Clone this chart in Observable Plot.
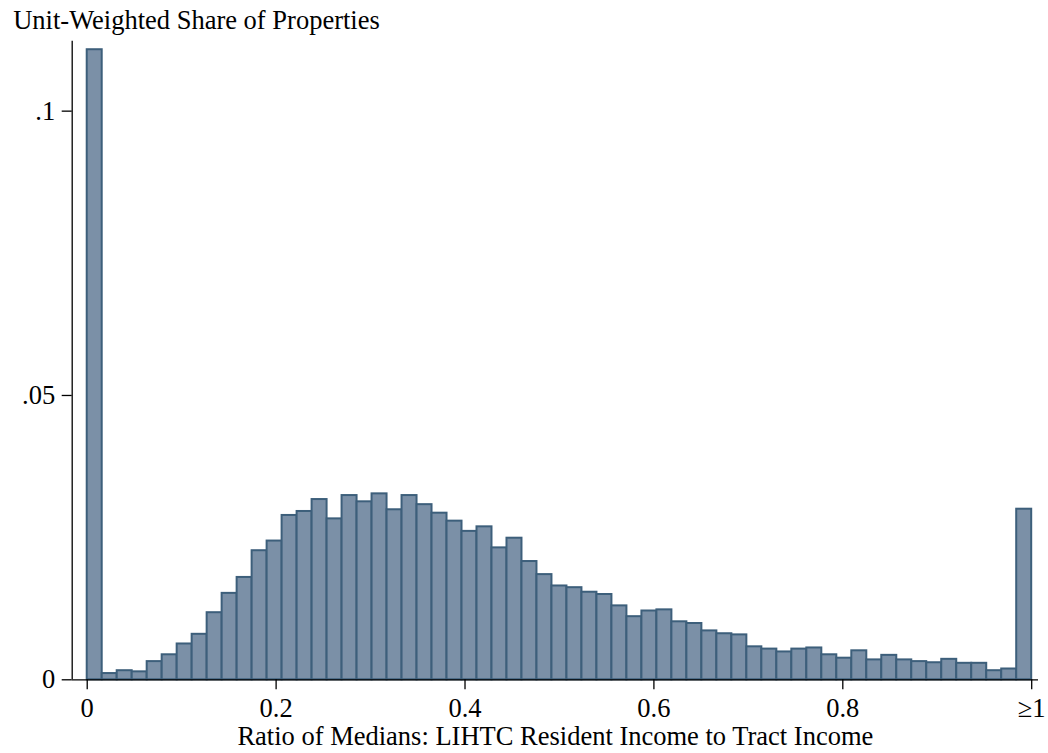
<!DOCTYPE html>
<html><head><meta charset="utf-8">
<script src="https://cdn.jsdelivr.net/npm/d3@7"></script>
<script src="https://cdn.jsdelivr.net/npm/@observablehq/plot@0.6"></script>
<style>body{margin:0;background:#fff} #chart svg{display:block}</style>
</head><body><div id="chart"></div>
<script>
const yTitle = "Unit-Weighted Share of Properties";
const xTitle = "Ratio of Medians: LIHTC Resident Income to Tract Income";
const xTicks = [0, 0.2, 0.4, 0.6, 0.8, 1];
const xTickLabels = ["0", "0.2", "0.4", "0.6", "0.8", "≥1"];
const yTicks = [0, 0.05, 0.1];
const yTickLabels = ["0", ".05", ".1"];
// share of properties in each of 63 equal-width bins over [0, 1] (last bin = ≥1)
const shares = [
  0.1108, 0.0011, 0.0016, 0.0014, 0.0032, 0.0044, 0.0063, 0.0080, 0.0118, 0.0152,
  0.0180, 0.0227, 0.0244, 0.0289, 0.0296, 0.0317, 0.0283, 0.0324, 0.0313, 0.0327,
  0.0299, 0.0324, 0.0308, 0.0293, 0.0279, 0.0261, 0.0269, 0.0232, 0.0249, 0.0208,
  0.0185, 0.0165, 0.0162, 0.0154, 0.0150, 0.0130, 0.0111, 0.0121, 0.0123, 0.0102,
  0.0099, 0.0086, 0.0081, 0.0079, 0.0058, 0.0054, 0.0049, 0.0054, 0.0056, 0.0044,
  0.0038, 0.0051, 0.0035, 0.0043, 0.0035, 0.0032, 0.0030, 0.0036, 0.0029, 0.0029,
  0.0016, 0.0019, 0.0300
];
const nBins = shares.length;
const bins = shares.map((v, i) => ({x1: i / nBins, x2: (i + 1) / nBins, share: v}));
const xDomain = [-0.0159, 1.0072];
const yDomain = [0, 0.1123];
const font = "'Liberation Serif', 'Times New Roman', serif";
const fs = 26.5;

const chart = Plot.plot({
  width: 1048, height: 753,
  marginLeft: 71.7, marginRight: 10, marginTop: 40.7, marginBottom: 73.7,
  style: {fontFamily: font, fontSize: fs + "px", color: "black", background: "white"},
  x: {domain: xDomain},
  y: {domain: yDomain},
  marks: [
    Plot.rectY(bins, {x1: "x1", x2: "x2", y: "share", fill: "#7b90a7", stroke: "#3d5f7b", strokeWidth: 2}),
    Plot.ruleY([0], {stroke: "black", strokeWidth: 1.3}),
    Plot.ruleX([xDomain[0]], {stroke: "black", strokeWidth: 1.3}),
    Plot.axisX({ticks: xTicks, tickFormat: d => xTickLabels[xTicks.indexOf(d)], tickSize: 10, tickPadding: 8, label: null, fontSize: fs, strokeWidth: 1.3}),
    Plot.axisY({ticks: yTicks, tickFormat: d => yTickLabels[yTicks.indexOf(d)], tickSize: 10, tickPadding: 7, label: null, fontSize: fs, strokeWidth: 1.3}),
    Plot.text([yTitle], {text: d => d, frameAnchor: "top-left", lineAnchor: "middle", textAnchor: "start", dx: -59, dy: -20.2, fontSize: fs, fill: "black"}),
    Plot.text([xTitle], {text: d => d, frameAnchor: "bottom", lineAnchor: "middle", dy: 57.2, fontSize: fs, fill: "black"})
  ]
});
document.getElementById("chart").append(chart);
</script>
</body></html>
